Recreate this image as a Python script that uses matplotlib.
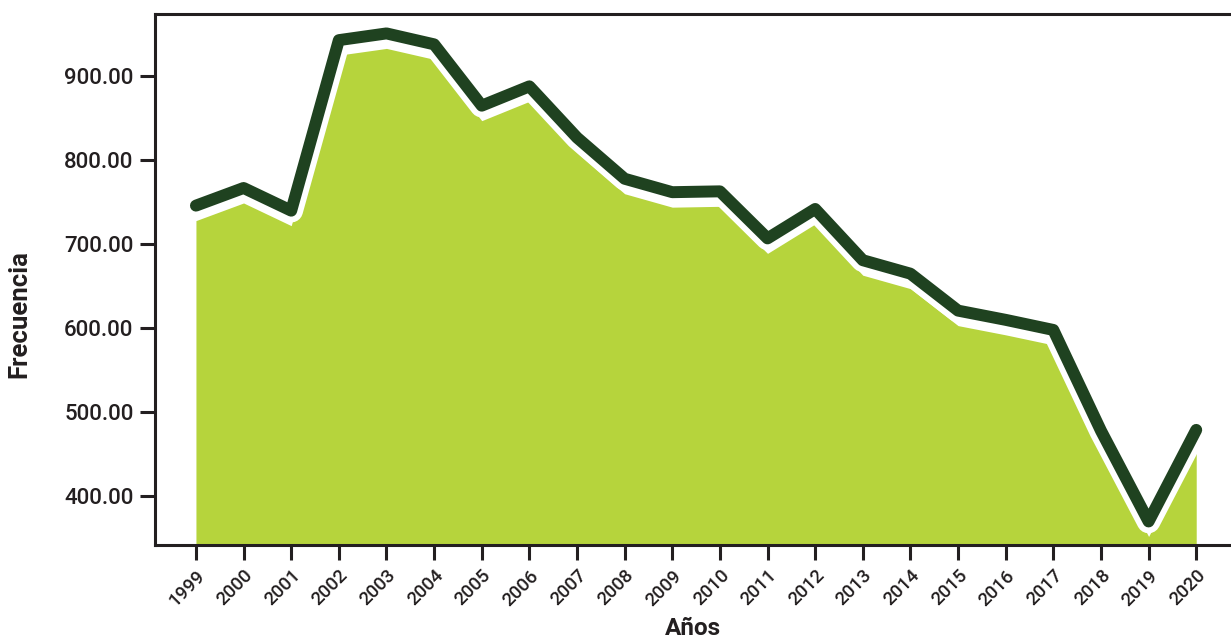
import matplotlib

matplotlib.use("Agg")
import matplotlib.pyplot as plt
import matplotlib.transforms as mtransforms

years = list(range(1999, 2021))
frecuencia = [746, 767, 740, 943, 951, 938, 865, 888, 827, 778, 762, 763,
              707, 742, 681, 665, 621, 610, 598, 478, 370, 479]
y_ticks = [400, 500, 600, 700, 800, 900]

DARK = "#1f4220"
FILL = "#b6d43c"
INK = "#231f20"

plt.rcParams["font.family"] = ["Roboto", "DejaVu Sans"]

fig = plt.figure(figsize=(12.31, 6.41), dpi=100)
ax = fig.add_axes([0.1259, 0.1498, 0.8741, 0.8282])

# area drawn as a shadow slightly below the line
shadow = mtransforms.offset_copy(ax.transData, fig=fig, x=0, y=-15, units="dots")
ax.fill_between(years, frecuencia, 300, color=FILL, lw=0, transform=shadow, zorder=1)
ax.plot(years, frecuencia, color="white", lw=17, solid_capstyle="round",
        solid_joinstyle="round", zorder=2)
ax.plot(years, frecuencia, color=DARK, lw=8.6, solid_capstyle="round",
        solid_joinstyle="round", zorder=3)

ax.set_xlim(1998.14, 2020.73)
ax.set_ylim(342, 974)
ax.set_xticks(years)
ax.set_xticklabels([str(y) for y in years], rotation=45, ha="right",
                   rotation_mode="anchor", fontsize=13.5, color=INK, fontweight="medium")
ax.set_yticks(y_ticks)
ax.set_yticklabels([f"{v:.2f}" for v in y_ticks], fontsize=16, color=INK,
                   fontweight="medium")

for side in ("left", "bottom", "top"):
    ax.spines[side].set_linewidth(2.2)
    ax.spines[side].set_color(INK)
ax.spines["right"].set_visible(False)
ax.tick_params(axis="both", length=10.5, width=2.2, color=INK)
ax.tick_params(axis="y", pad=5)
ax.tick_params(axis="x", pad=5)

ax.set_ylabel("Frecuencia", fontsize=18.5, color=INK, fontweight="semibold")
ax.set_xlabel("Años", fontsize=17.5, color=INK, fontweight="semibold")
ax.yaxis.set_label_coords(-0.115, 0.435)
ax.xaxis.set_label_coords(0.5, -0.135)

fig.savefig("out.png", dpi=100)
